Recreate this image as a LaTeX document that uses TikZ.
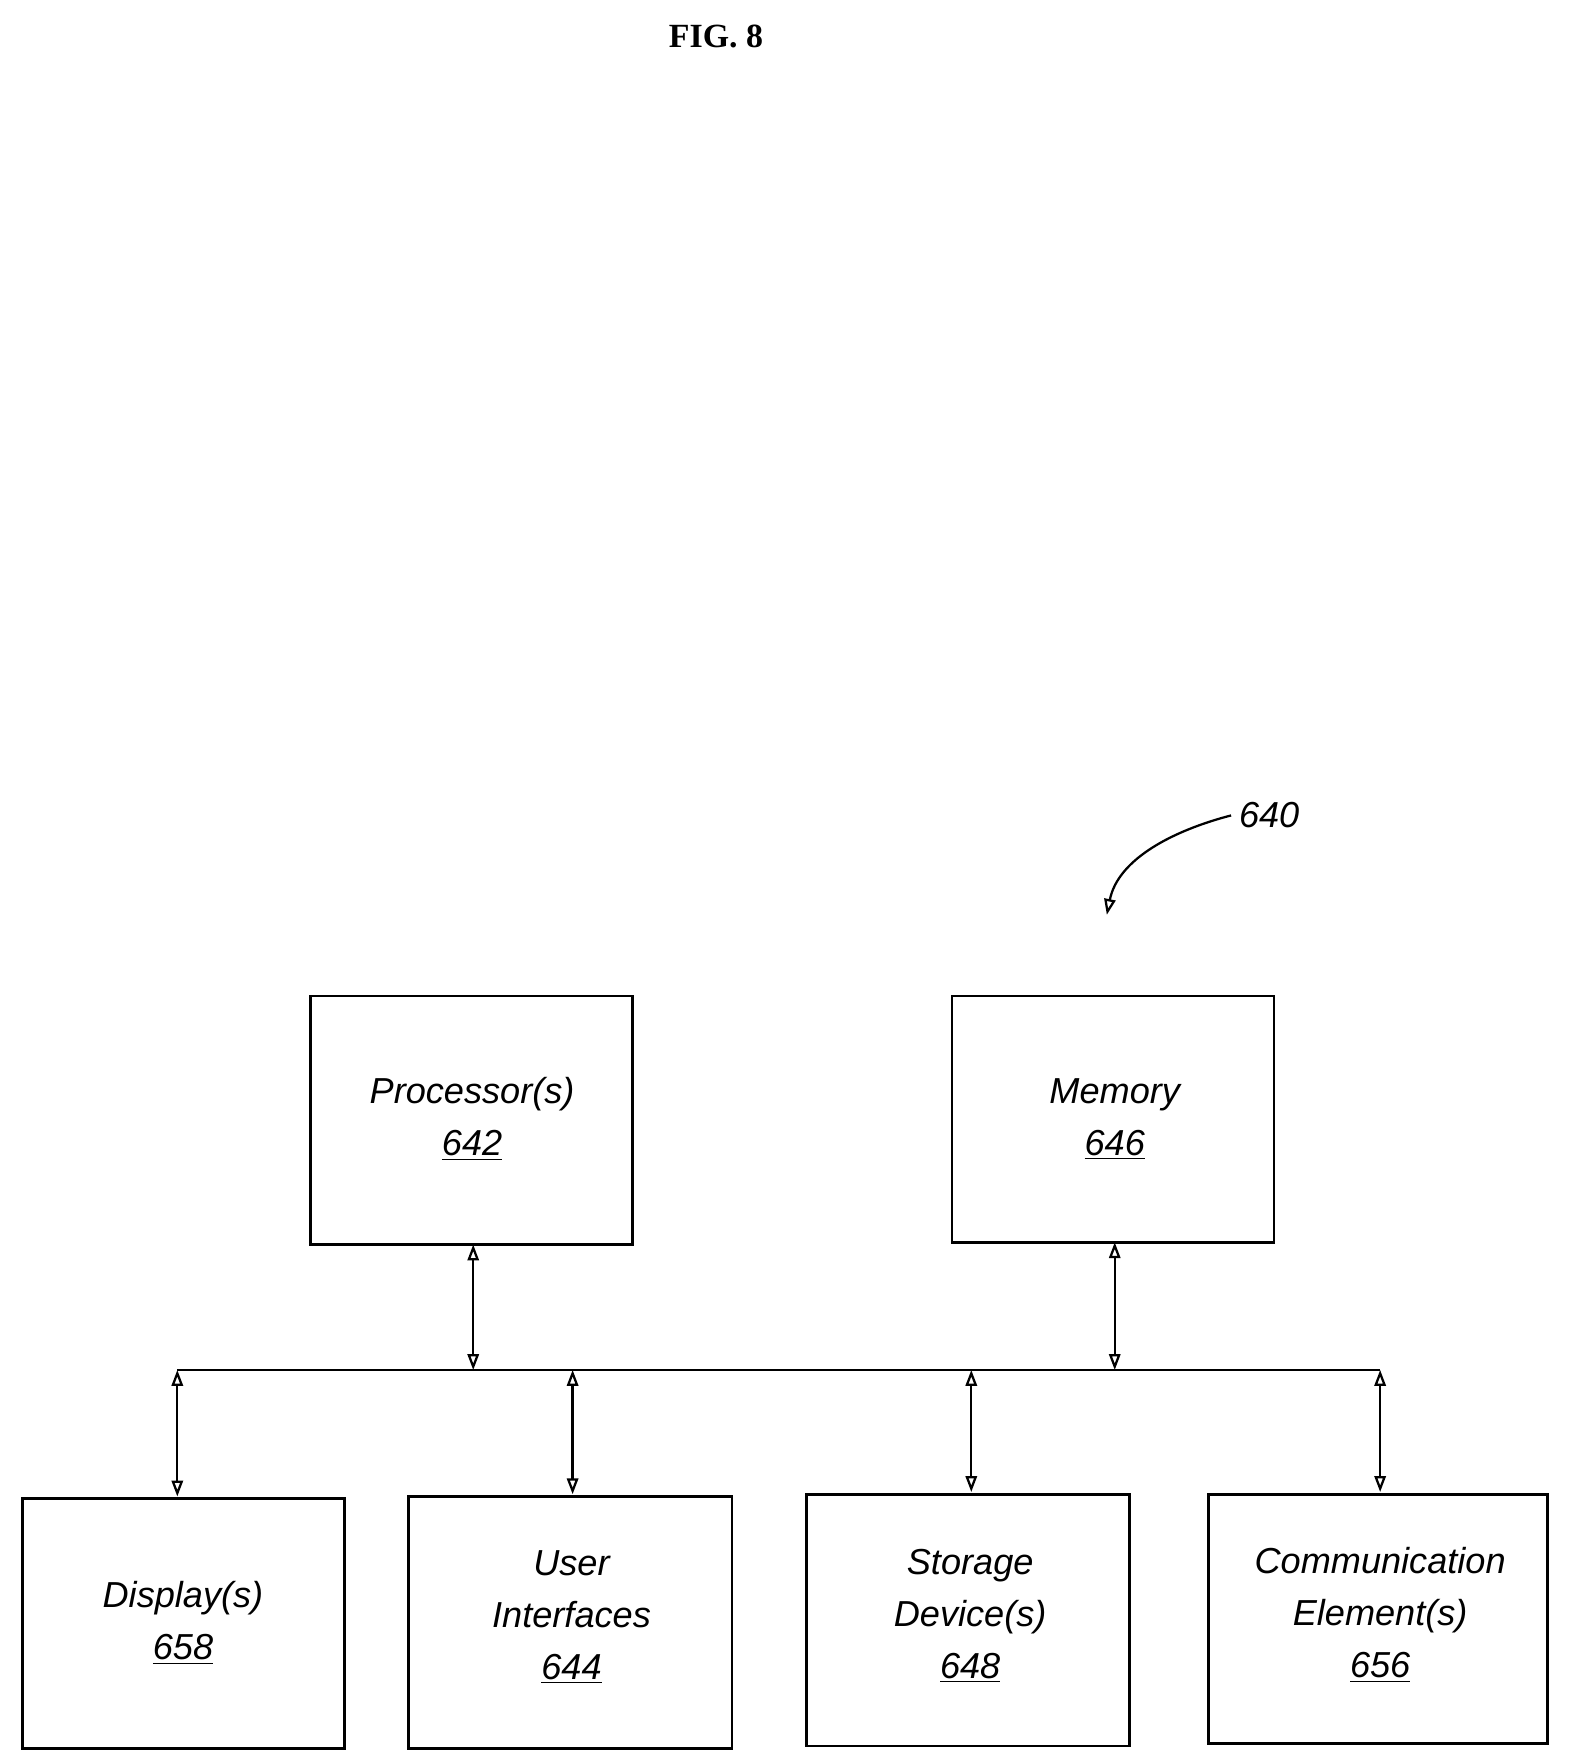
\documentclass[tikz,border=0pt]{standalone}
\usepackage{fontspec}
\setmainfont{Liberation Serif}
\newfontfamily\lab{Liberation Sans}
\usetikzlibrary{arrows.meta}
\begin{document}
\begin{tikzpicture}[x=0.5pt,y=-0.5pt,
 box/.style={draw,line width=1.2pt,inner sep=0pt},
 txt/.style={font=\lab\itshape\fontsize{16}{23}\selectfont,align=center},
 conn/.style={line width=1pt,{Triangle[open,length=7pt,width=5pt]}-{Triangle[open,length=7pt,width=5pt]}}]
\useasboundingbox (0,0) rectangle (1390,1561);
\node[font=\bfseries\fontsize{15}{18}\selectfont] (fig) at (634,32) {FIG. 8};
\draw[line width=1.2pt] (275,882) rectangle (560,1102);
\coordinate (pT) at (419,1102);
\node[txt] (p) at (418,991) {Processor(s)\\\underline{642}};
\draw[line width=1.2pt] (843,882) rectangle (1128,1100);
\coordinate (mT) at (987,1100);
\node[txt] (m) at (987,991) {Memory\\\underline{646}};
\draw[line width=1.2pt] (20,1327) rectangle (305,1548);
\node[txt] (d) at (162,1437) {Display(s)\\\underline{658}};
\draw[line width=1.2pt] (362,1325) rectangle (648,1548);
\node[txt] (u) at (506,1432) {User\\Interfaces\\\underline{644}};
\draw[line width=1.2pt] (714,1323) rectangle (1000,1546);
\node[txt] (s) at (859,1431) {Storage\\Device(s)\\\underline{648}};
\draw[line width=1.2pt] (1070,1323) rectangle (1370,1544);
\node[txt] (c) at (1222,1430) {Communication\\Element(s)\\\underline{656}};
\coordinate (bl) at (157,1213); \coordinate (br) at (1222,1213);
\draw[line width=1.2pt] (bl) -- (br);
\coordinate (b1) at (419,1213); \coordinate (b2) at (987,1213);
\draw[conn] (pT) -- (b1);
\draw[conn] (mT) -- (b2);
\coordinate (dT) at (157,1325); \coordinate (uT) at (507,1323);
\coordinate (sT) at (860,1321); \coordinate (cT) at (1222,1321);
\draw[conn] (bl) -- (dT);
\draw[conn] (507,1213) -- (uT);
\draw[conn] (860,1213) -- (sT);
\draw[conn] (br) -- (cT);
\node[font=\lab\itshape\fontsize{16}{20}\selectfont,anchor=west] (l640) at (1090,722) {640};
\coordinate (a640) at (980,810);
\draw[line width=1pt,-{Triangle[open,length=7pt,width=5pt]}] (l640.west) .. controls (1040,735) and (990,760) .. (a640);
\end{tikzpicture}
\end{document}
